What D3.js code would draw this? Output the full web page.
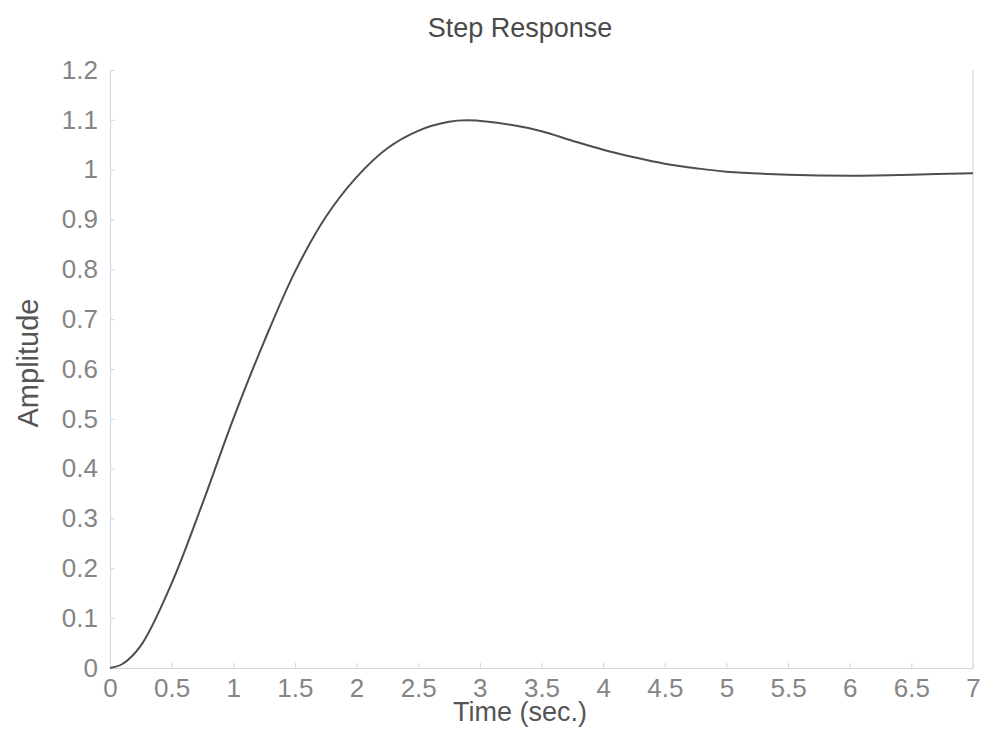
<!DOCTYPE html>
<html>
<script src="https://d3js.org/d3.v7.min.js"></script>
<body style="margin:0; background:#fff;">

<svg id="chart" width="984" height="729"></svg>

<script>

// step response
const timeValues = [0, 0.1, 0.25, 0.5, 0.75, 1, 1.25, 1.5, 1.75, 2, 2.25, 2.5, 2.75, 2.9, 3.25, 3.5, 3.75, 4, 4.25, 4.5, 4.75, 5, 5.5, 6, 6.5, 7]
const amplitudeValues = [0, 0.008, 0.045, 0.17, 0.33, 0.50, 0.655, 0.795, 0.905, 0.985, 1.043, 1.078, 1.096, 1.099, 1.09, 1.077, 1.058, 1.04, 1.025, 1.012, 1.003, 0.996, 0.99, 0.988, 0.99, 0.993]
const xTicks = [0, 0.5, 1, 1.5, 2, 2.5, 3, 3.5, 4, 4.5, 5, 5.5, 6, 6.5, 7]
const yTicks = [0, 0.1, 0.2, 0.3, 0.4, 0.5, 0.6, 0.7, 0.8, 0.9, 1, 1.1, 1.2]

const plotLeft = 110, plotRight = 973, plotTop = 70, plotBottom = 668
const axisColor = "#cfd6e0"
const labelColor = "#858585"
const fontFamily = "'Liberation Sans', Arial, sans-serif"

const svg = d3.select("#chart")

const x = d3.scaleLinear().domain([0, 7]).range([plotLeft, plotRight])
const y = d3.scaleLinear().domain([0, 1.2]).range([plotBottom, plotTop])

// x axis
const gx = svg.append("g")
  .attr("transform", "translate(0," + plotBottom + ")")
  .call(d3.axisBottom(x).tickValues(xTicks).tickFormat(d3.format("")).tickSizeInner(-5).tickSizeOuter(0).tickPadding(11))
gx.select(".domain").attr("stroke", axisColor)
gx.selectAll(".tick line").attr("stroke", axisColor)
gx.selectAll(".tick text")
  .attr("fill", labelColor)
  .style("font-family", fontFamily)
  .style("font-size", "26px")

// y axis
const gy = svg.append("g")
  .attr("transform", "translate(" + plotLeft + ",0)")
  .call(d3.axisLeft(y).tickValues(yTicks).tickFormat(d3.format("")).tickSizeInner(-5).tickSizeOuter(0).tickPadding(12))
gy.select(".domain").attr("stroke", axisColor)
gy.selectAll(".tick line").attr("stroke", axisColor)
gy.selectAll(".tick text")
  .attr("fill", labelColor)
  .style("font-family", fontFamily)
  .style("font-size", "26px")

// right edge of the box
svg.append("line")
  .attr("x1", plotRight).attr("x2", plotRight)
  .attr("y1", plotTop).attr("y2", plotBottom)
  .attr("stroke", axisColor)

// curve
const points = timeValues.map((t, i) => [t, amplitudeValues[i]])
svg.append("path")
  .datum(points)
  .attr("fill", "none")
  .attr("stroke", "#4a4f4f")
  .attr("stroke-width", 2)
  .attr("d", d3.line()
    .x(d => x(d[0]))
    .y(d => y(d[1]))
    .curve(d3.curveCatmullRom))

// titles
svg.append("text")
  .attr("x", 520).attr("y", 37)
  .attr("text-anchor", "middle")
  .attr("fill", "#4a4a4a")
  .style("font-family", fontFamily)
  .style("font-size", "27px")
  .text("Step Response")

svg.append("text")
  .attr("x", 520).attr("y", 721)
  .attr("text-anchor", "middle")
  .attr("fill", "#555")
  .style("font-family", fontFamily)
  .style("font-size", "27px")
  .text("Time (sec.)")

svg.append("text")
  .attr("transform", "translate(38,363) rotate(-90)")
  .attr("text-anchor", "middle")
  .attr("fill", "#555")
  .style("font-family", fontFamily)
  .style("font-size", "29px")
  .text("Amplitude")

</script>
</body>
</html>
